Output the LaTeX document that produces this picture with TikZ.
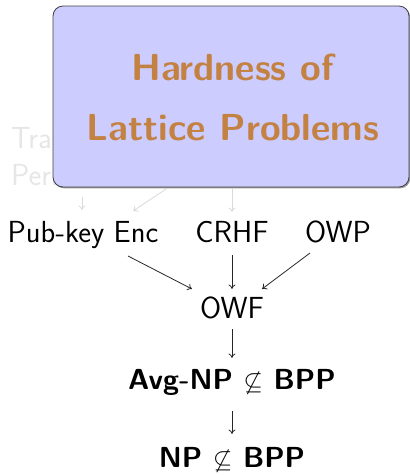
\documentclass[tikz,border=0pt]{standalone}
\usetikzlibrary{arrows.meta}
\definecolor{boxfill}{RGB}{204,204,255}
\definecolor{titlecol}{RGB}{196,130,66}
\definecolor{fadegray}{RGB}{230,230,230}
\definecolor{fadearrow}{RGB}{218,218,218}
\begin{document}
\begin{tikzpicture}[x=1pt,y=-1pt,
  lbl/.style={inner sep=0pt, anchor=base, font=\sffamily\fontsize{30.5}{36}\selectfont},
  boldlbl/.style={lbl, font=\sffamily\bfseries\fontsize{29}{34}\selectfont},
  faded/.style={lbl, anchor=base west, text=fadegray},
  title/.style={inner sep=0pt, anchor=base, text=titlecol,
    font=\sffamily\bfseries\fontsize{37.6}{44}\selectfont},
  panel/.style={draw=black!75, line width=0.8pt, fill=boxfill,
    rounded corners=10pt, minimum width=356pt, minimum height=181pt, inner sep=0pt},
  imp/.style={-{To[length=4.5pt,width=7pt]}, line width=0.8pt, draw=black!85},
  fadeimp/.style={imp, draw=fadearrow}]
\useasboundingbox (0,0) rectangle (410,475);

% partly hidden source node, behind the panel
\node[faded] (tdpA) at (11,148) {Trapdoor};
\node[faded] (tdpB) at (11,185) {Permutations};

% panel with soft shadow
\fill[black!40, rounded corners=10pt] (54,7.5) rectangle (410.3,188.3);
\node[panel] (hard) at (231,96.5) {};
\node[title] (titleA) at (232.5,80) {Hardness of};
\node[title] (titleB) at (233,140) {Lattice Problems};

% primitives
\node[lbl] (pke) at (83,242) {Pub-key Enc};
\node[lbl] (crhf) at (232,242) {CRHF};
\node[lbl] (owp) at (338,242) {OWP};
\node[lbl] (owf) at (232,318) {OWF};
\node[boldlbl] (avg) at (232,389) {Avg-NP $\not\subseteq$ BPP};
\node[boldlbl] (np) at (232,467) {NP $\not\subseteq$ BPP};

% faded implications leaving the panel
\draw[fadeimp] ([shift={(71,12)}]tdpB.base west) -- ([shift={(-1,-32)}]pke.base);
\draw[fadeimp] ([shift={(-64,1)}]hard.south) -- ([shift={(50,-31)}]pke.base);
\draw[fadeimp] ([shift={(1,0.5)}]hard.south) -- ([shift={(0,-30)}]crhf.base);

% implications
\draw[imp] ([shift={(45,14)}]pke.base) -- ([shift={(-40,-29)}]owf.base);
\draw[imp] ([shift={(0,13)}]crhf.base) -- ([shift={(0,-29)}]owf.base);
\draw[imp] ([shift={(-28,11)}]owp.base) -- ([shift={(30,-29)}]owf.base);
\draw[imp] ([shift={(0,11)}]owf.base) -- ([shift={(0,-31)}]avg.base);
\draw[imp] ([shift={(0,22)}]avg.base) -- ([shift={(0,-33)}]np.base);
\end{tikzpicture}
\end{document}
